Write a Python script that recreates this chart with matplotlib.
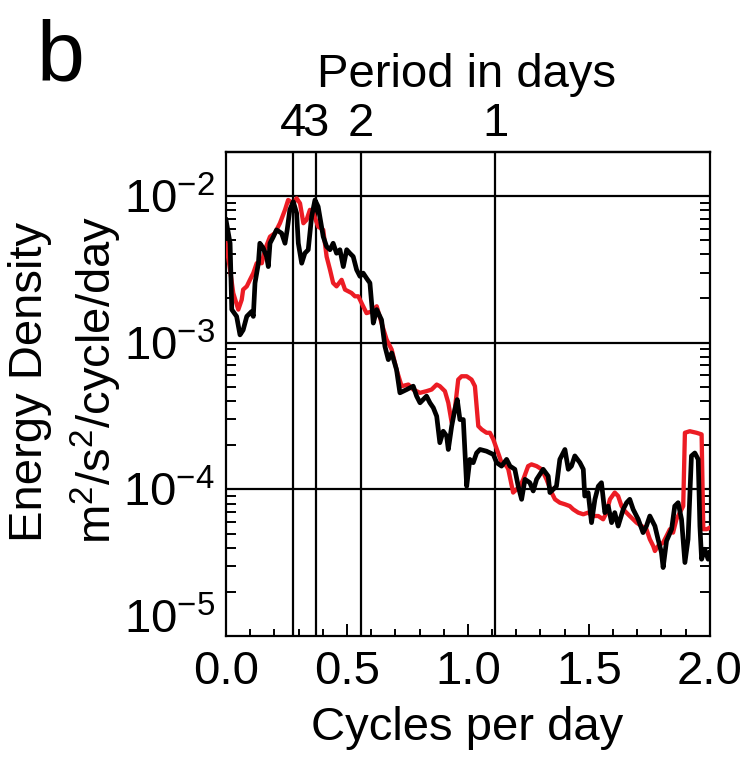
import matplotlib
matplotlib.use('Agg')
import matplotlib.pyplot as plt
import matplotlib.transforms as mtransforms
from matplotlib.ticker import FixedLocator, LogLocator, MultipleLocator, NullFormatter, FormatStrFormatter

plt.rcParams['font.family'] = ['Liberation Sans', 'DejaVu Sans']
plt.rcParams['mathtext.fontset'] = 'custom'
plt.rcParams['mathtext.rm'] = 'Liberation Sans'
plt.rcParams['mathtext.it'] = 'Liberation Sans:italic'
plt.rcParams['mathtext.bf'] = 'Liberation Sans:bold'

# black spectrum (cycles per day, m2/s2/cycle/day)
black_x = [0.000, 0.017, 0.024, 0.044, 0.058, 0.071, 0.086, 0.106, 0.113, 0.120,
           0.134, 0.140, 0.154, 0.168, 0.175, 0.182, 0.196, 0.209, 0.230, 0.244,
           0.253, 0.264, 0.278, 0.292, 0.299, 0.313, 0.326, 0.340, 0.354, 0.368,
           0.381, 0.402, 0.416, 0.430, 0.443, 0.457, 0.471, 0.485, 0.499, 0.512,
           0.526, 0.540, 0.554, 0.567, 0.581, 0.595, 0.609, 0.623, 0.643, 0.657,
           0.671, 0.685, 0.705, 0.719, 0.747, 0.774, 0.788, 0.802, 0.829, 0.843,
           0.857, 0.871, 0.884, 0.898, 0.912, 0.919, 0.933, 0.946, 0.956, 0.967,
           0.981, 0.995, 1.008, 1.022, 1.036, 1.050, 1.077, 1.105, 1.119, 1.139,
           1.160, 1.174, 1.194, 1.208, 1.222, 1.236, 1.256, 1.270, 1.284, 1.311,
           1.332, 1.339, 1.366, 1.380, 1.401, 1.415, 1.428, 1.442, 1.463, 1.477,
           1.483, 1.497, 1.511, 1.525, 1.539, 1.552, 1.566, 1.580, 1.594, 1.607,
           1.621, 1.642, 1.656, 1.669, 1.683, 1.704, 1.724, 1.738, 1.752, 1.773,
           1.786, 1.800, 1.807, 1.821, 1.842, 1.855, 1.869, 1.883, 1.897, 1.910,
           1.924, 1.938, 1.952, 1.959, 1.966, 1.979, 1.993, 2.000]
black_y = [6.87e-3, 4.76e-3, 1.68e-3, 1.51e-3, 1.13e-3, 1.22e-3, 1.51e-3, 1.63e-3, 1.51e-3, 2.55e-3,
           3.48e-3, 4.76e-3, 4.41e-3, 3.86e-3, 3.30e-3, 4.76e-3, 5.28e-3, 5.87e-3, 5.57e-3, 4.76e-3,
           5.87e-3, 8.04e-3, 9.15e-3, 7.63e-3, 4.76e-3, 3.48e-3, 4.07e-3, 4.30e-3, 7.23e-3, 9.39e-3,
           8.46e-3, 5.28e-3, 4.52e-3, 4.30e-3, 4.76e-3, 4.07e-3, 4.30e-3, 3.30e-3, 4.30e-3, 4.07e-3,
           3.86e-3, 3.14e-3, 2.83e-3, 2.98e-3, 2.75e-3, 2.55e-3, 1.36e-3, 1.68e-3, 1.43e-3, 9.44e-4,
           7.66e-4, 8.51e-4, 6.55e-4, 4.55e-4, 4.79e-4, 5.05e-4, 4.32e-4, 3.89e-4, 4.32e-4, 3.89e-4,
           3.60e-4, 3.15e-4, 2.08e-4, 2.49e-4, 2.31e-4, 1.87e-4, 2.70e-4, 3.50e-4, 4.09e-4, 2.99e-4,
           2.99e-4, 1.05e-4, 1.60e-4, 1.52e-4, 1.77e-4, 1.87e-4, 1.82e-4, 1.73e-4, 1.52e-4, 1.44e-4,
           1.60e-4, 1.44e-4, 1.37e-4, 1.05e-4, 8.55e-5, 1.17e-4, 1.11e-4, 9.75e-5, 1.17e-4, 1.37e-4,
           1.23e-4, 9.51e-5, 1.05e-4, 1.60e-4, 1.87e-4, 1.37e-4, 1.44e-4, 1.69e-4, 1.52e-4, 1.37e-4,
           9.00e-5, 9.50e-5, 5.93e-5, 8.55e-5, 1.05e-4, 1.11e-4, 6.94e-5, 7.69e-5, 5.93e-5, 6.94e-5,
           5.62e-5, 7.31e-5, 8.11e-5, 8.55e-5, 7.31e-5, 6.25e-5, 5.07e-5, 5.62e-5, 6.58e-5, 5.62e-5,
           4.57e-5, 3.71e-5, 2.93e-5, 4.45e-5, 5.35e-5, 7.69e-5, 8.11e-5, 6.25e-5, 3.17e-5, 4.57e-5,
           1.69e-4, 1.77e-4, 1.60e-4, 5.62e-5, 3.34e-5, 3.91e-5, 3.34e-5, 3.70e-5]

# red spectrum
red_x = [0.000, 0.017, 0.030, 0.051, 0.065, 0.071, 0.086, 0.099, 0.113, 0.127,
         0.148, 0.161, 0.182, 0.202, 0.223, 0.244, 0.257, 0.278, 0.292, 0.306,
         0.320, 0.333, 0.347, 0.361, 0.381, 0.402, 0.416, 0.430, 0.443, 0.457,
         0.478, 0.492, 0.519, 0.533, 0.547, 0.567, 0.581, 0.602, 0.623, 0.643,
         0.664, 0.685, 0.705, 0.726, 0.754, 0.774, 0.802, 0.829, 0.850, 0.871,
         0.884, 0.905, 0.919, 0.933, 0.946, 0.960, 0.974, 0.995, 1.015, 1.029,
         1.043, 1.057, 1.077, 1.091, 1.105, 1.125, 1.139, 1.160, 1.167, 1.187,
         1.201, 1.215, 1.229, 1.249, 1.263, 1.284, 1.305, 1.325, 1.346, 1.360,
         1.380, 1.401, 1.421, 1.435, 1.456, 1.477, 1.497, 1.518, 1.539, 1.559,
         1.573, 1.587, 1.607, 1.621, 1.635, 1.649, 1.669, 1.683, 1.697, 1.718,
         1.738, 1.752, 1.766, 1.773, 1.786, 1.807, 1.821, 1.835, 1.848, 1.862,
         1.876, 1.890, 1.897, 1.917, 1.945, 1.966, 1.973, 1.987, 2.000]
red_y = [4.76e-3, 3.14e-3, 2.18e-3, 1.68e-3, 1.96e-3, 2.30e-3, 2.42e-3, 2.68e-3, 2.98e-3, 3.48e-3,
         3.48e-3, 4.30e-3, 5.28e-3, 5.57e-3, 6.52e-3, 8.04e-3, 9.39e-3, 8.91e-3, 9.64e-3, 8.91e-3,
         6.52e-3, 6.87e-3, 8.04e-3, 7.63e-3, 6.18e-3, 5.87e-3, 3.86e-3, 3.14e-3, 2.55e-3, 2.42e-3,
         2.68e-3, 2.30e-3, 2.18e-3, 2.07e-3, 2.07e-3, 1.77e-3, 1.59e-3, 1.63e-3, 1.77e-3, 1.36e-3,
         1.05e-3, 8.96e-4, 6.55e-4, 5.05e-4, 5.18e-4, 4.79e-4, 4.55e-4, 4.67e-4, 4.79e-4, 5.18e-4,
         5.05e-4, 4.67e-4, 3.89e-4, 2.85e-4, 3.50e-4, 5.60e-4, 5.90e-4, 5.90e-4, 5.60e-4, 5.05e-4,
         2.70e-4, 2.56e-4, 2.43e-4, 2.43e-4, 2.19e-4, 1.77e-4, 1.52e-4, 1.44e-4, 1.37e-4, 9.51e-5,
         1.00e-4, 1.05e-4, 1.17e-4, 1.44e-4, 1.48e-4, 1.44e-4, 1.37e-4, 1.17e-4, 9.51e-5, 8.55e-5,
         8.11e-5, 7.91e-5, 7.69e-5, 7.31e-5, 6.94e-5, 6.76e-5, 6.94e-5, 6.58e-5, 6.58e-5, 6.25e-5,
         6.94e-5, 8.55e-5, 9.51e-5, 9.00e-5, 7.69e-5, 7.11e-5, 6.58e-5, 6.25e-5, 5.93e-5, 5.62e-5,
         5.35e-5, 4.57e-5, 4.11e-5, 3.80e-5, 4.11e-5, 4.34e-5, 4.81e-5, 5.35e-5, 5.07e-5, 6.25e-5,
         6.94e-5, 7.69e-5, 2.43e-4, 2.49e-4, 2.43e-4, 2.37e-4, 5.35e-5, 5.35e-5, 5.48e-5]

period_days = [4, 3, 2, 1]
one_day_freq = 1.114          # where the 1-day line sits on the x axis
decades = [1e-5, 1e-4, 1e-3, 1e-2]
decade_labels = [r'$10^{-5}$', r'$10^{-4}$', r'$10^{-3}$', r'$10^{-2}$']

fig = plt.figure(figsize=(7.49, 7.59), dpi=100)
ax = fig.add_axes([0.3017, 0.162, 0.646, 0.638])

ax.plot(red_x, red_y, color='#ec1c24', lw=3.1, zorder=3)
ax.plot(black_x, black_y, color='black', lw=3.4, zorder=4)

ax.set_yscale('log')
ax.set_xlim(0, 2)
ax.set_ylim(1e-5, 2e-2)

for d in decades[1:]:
    ax.axhline(d, color='k', lw=1.6, zorder=2)
period_freq = [one_day_freq / p for p in period_days]
for f in period_freq:
    ax.axvline(f, color='k', lw=1.6, zorder=2)

for s in ax.spines.values():
    s.set_linewidth(1.6)

ax.yaxis.set_major_locator(FixedLocator(decades))
ax.set_yticklabels(decade_labels)
ax.yaxis.set_minor_locator(LogLocator(base=10, subs=range(2, 10)))
ax.yaxis.set_minor_formatter(NullFormatter())
ax.tick_params(axis='y', which='major', length=0, pad=8, labelsize=34)
ax.tick_params(axis='y', which='minor', direction='in', length=7, width=1.4,
               left=True, right=True)

ax.xaxis.set_major_locator(MultipleLocator(0.5))
ax.xaxis.set_minor_locator(MultipleLocator(0.1))
ax.xaxis.set_major_formatter(FormatStrFormatter('%.1f'))
ax.tick_params(axis='x', which='major', direction='in', length=9, width=1.4,
               labelsize=34, pad=10)
ax.tick_params(axis='x', which='minor', direction='in', length=5, width=1.4)

# the 10^-5 label sits a bit higher in the original
lab = ax.get_yticklabels()[0]
lab.set_transform(lab.get_transform() +
                  mtransforms.ScaledTranslation(0, 0.2, fig.dpi_scale_trans))

top = ax.secondary_xaxis('top')
top.set_xticks(period_freq, labels=[str(p) for p in period_days])
top.tick_params(length=0, labelsize=34, pad=4)
top.spines['top'].set_linewidth(1.6)

fig.text(467 / 749, 1 - 75 / 759, 'Period in days', fontsize=34,
         ha='center', va='center')
fig.text(467 / 749, 1 - 728 / 759, 'Cycles per day', fontsize=34,
         ha='center', va='center')
fig.text(30 / 749, 1 - 382 / 759, 'Energy Density', fontsize=34,
         rotation=90, ha='center', va='center')
fig.text(96 / 749, 1 - 380 / 759, r'm$^2$/s$^2$/cycle/day', fontsize=34,
         rotation=90, ha='center', va='center')
fig.text(37 / 749, 1 - 80 / 759, 'b', fontsize=62, ha='left', va='baseline')

fig.savefig('out.png', dpi=100)
